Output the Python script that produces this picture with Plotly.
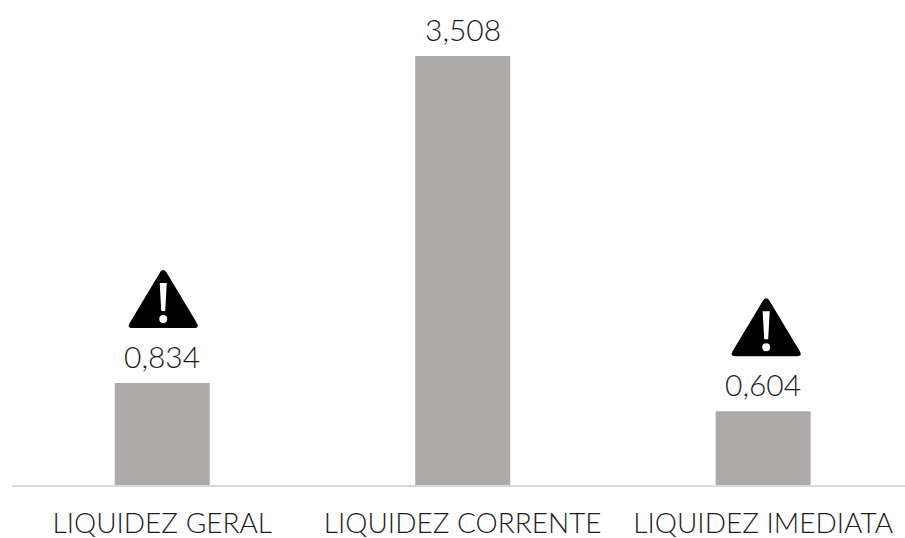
import plotly.graph_objects as go

categories = ["LIQUIDEZ GERAL", "LIQUIDEZ CORRENTE", "LIQUIDEZ IMEDIATA"]
values = [0.834, 3.508, 0.604]
value_labels = ["0,834", "3,508", "0,604"]
warning_flags = [True, False, True]

FONT = "Lato Light, Lato, sans-serif"
TEXT_COLOR = "#1c1c1c"


def warning_path(dx, dy):
    """Warning triangle, in pixels relative to the top of its bar."""
    def p(x, y):
        return f"{x + dx} {y + dy}"
    return " ".join([
        "M", p(-3, 56), "Q", p(0, 60), p(3, 56),
        "L", p(33, 6), "Q", p(37, 0), p(31, 0),
        "L", p(-31, 0), "Q", p(-37, 0), p(-33, 6), "Z",
        "M", p(-3.5, 45), "L", p(3.5, 45), "L", p(2, 17), "L", p(-2, 17), "Z",
        "M", p(-4, 9),
        "Q", p(-4, 13), p(0, 13),
        "Q", p(4, 13), p(4, 9),
        "Q", p(4, 5), p(0, 5),
        "Q", p(-4, 5), p(-4, 9), "Z",
    ])


fig = go.Figure(
    go.Bar(
        x=categories,
        y=values,
        marker=dict(color="#aeaaaa", line=dict(width=0)),
        cliponaxis=False,
        width=95 / 300.5,
    )
)

shapes = []
annotations = []
for i, (cat, val, lab, flag) in enumerate(zip(categories, values, value_labels, warning_flags)):
    annotations.append(
        dict(
            x=cat, y=val, text=lab, showarrow=False,
            xanchor="center", yanchor="bottom", yshift=7,
            font=dict(family=FONT, size=30, color=TEXT_COLOR, weight=300),
        )
    )
    if flag:
        shapes.append(
            dict(
                type="path", xref="x", yref="y",
                xsizemode="pixel", ysizemode="pixel",
                xanchor=cat, yanchor=val,
                path=warning_path(1 if i == 0 else 3, 55),
                fillcolor="#000000", fillrule="evenodd",
                line=dict(width=0),
            )
        )

fig.update_layout(
    width=905,
    height=538,
    autosize=False,
    showlegend=False,
    paper_bgcolor="white",
    plot_bgcolor="white",
    margin=dict(l=12, r=0, t=0, b=53),
    shapes=shapes,
    annotations=annotations,
    xaxis=dict(
        type="category",
        range=[-0.5, 2.472],
        showgrid=False,
        showline=True,
        linecolor="#d9d9d9",
        linewidth=2,
        ticks="",
        tickangle=0,
        ticklabelstandoff=12,
        tickfont=dict(family=FONT, size=28, color=TEXT_COLOR, weight=300),
    ),
    yaxis=dict(visible=False, range=[0, 3.966], showgrid=False, zeroline=False),
)

fig.write_html(
    "out.html",
    config={"displayModeBar": False},
    post_script="document.body.style.margin='0';",
)
